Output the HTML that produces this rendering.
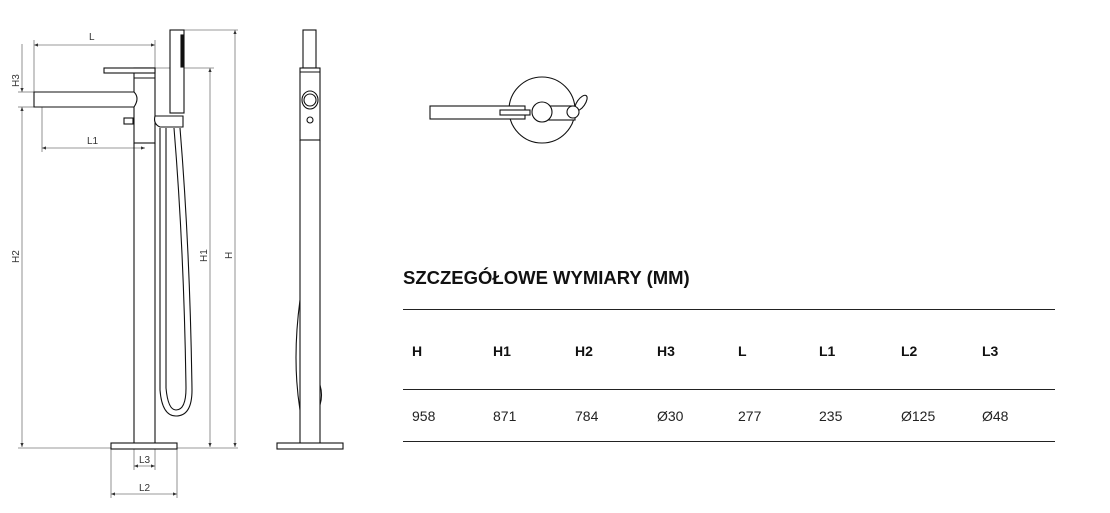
<!DOCTYPE html>
<html><head><meta charset="utf-8"><style>
html,body{margin:0;padding:0;background:#fff;width:1110px;height:513px;overflow:hidden}
svg{position:absolute;left:0;top:0}
text{font-family:"Liberation Sans",sans-serif}
</style></head><body>
<svg width="1110" height="513" viewBox="0 0 1110 513">
<defs>
<marker id="a" viewBox="0 0 10 10" refX="10" refY="5" markerWidth="5" markerHeight="5" orient="auto-start-reverse"><path d="M0,1 L10,5 L0,9z" fill="#333"/></marker>
</defs>
<g stroke="#777" stroke-width="0.8" fill="none">
<line x1="34" y1="45" x2="155" y2="45" marker-start="url(#a)" marker-end="url(#a)"/>
<line x1="34" y1="40" x2="34" y2="92"/>
<line x1="155" y1="40" x2="155" y2="68"/>
<line x1="22" y1="44" x2="22" y2="92" marker-end="url(#a)"/>
<line x1="18" y1="92" x2="34" y2="92"/>
<line x1="18" y1="107" x2="34" y2="107"/>
<line x1="22" y1="107" x2="22" y2="447" marker-start="url(#a)" marker-end="url(#a)"/>
<line x1="42" y1="105" x2="42" y2="152"/>
<line x1="42" y1="148" x2="145" y2="148" marker-start="url(#a)" marker-end="url(#a)"/>
<line x1="155" y1="68" x2="214" y2="68"/>
<line x1="184" y1="30" x2="238" y2="30"/>
<line x1="210" y1="68" x2="210" y2="447" marker-start="url(#a)" marker-end="url(#a)"/>
<line x1="235" y1="30" x2="235" y2="447" marker-start="url(#a)" marker-end="url(#a)"/>
<line x1="18" y1="448" x2="238" y2="448"/>
<line x1="134" y1="449" x2="134" y2="470"/>
<line x1="155" y1="449" x2="155" y2="470"/>
<line x1="134" y1="466" x2="155" y2="466" marker-start="url(#a)" marker-end="url(#a)"/>
<line x1="111" y1="449" x2="111" y2="498"/>
<line x1="177" y1="449" x2="177" y2="498"/>
<line x1="111" y1="494" x2="177" y2="494" marker-start="url(#a)" marker-end="url(#a)"/>
</g>
<g fill="#333" font-size="10">
<text x="89" y="40">L</text>
<text x="87" y="144">L1</text>
<text x="139" y="463">L3</text>
<text x="139" y="491">L2</text>
<text transform="translate(19,87) rotate(-90)">H3</text>
<text transform="translate(19,263) rotate(-90)">H2</text>
<text transform="translate(207,262) rotate(-90)">H1</text>
<text transform="translate(232,259) rotate(-90)">H</text>
</g>
<g stroke="#111" stroke-width="1.1" fill="#fff">
<rect x="134" y="68" width="21" height="75"/>
<line x1="134" y1="143" x2="134" y2="443"/>
<line x1="155" y1="143" x2="155" y2="443"/>
<rect x="104" y="68" width="51" height="5"/>
<line x1="134" y1="78" x2="155" y2="78"/>
<path d="M34,92 L134,92 Q140,98 134,107 L34,107 Z"/>
<rect x="124" y="118" width="9" height="6"/>
<rect x="170" y="30" width="14" height="83"/>
<rect x="181" y="35" width="2" height="32" fill="#111"/>
<path d="M155,116 Q153,124 160,127 L183,127 L183,116 Z"/>
<path d="M160,128 L160,390 Q162,416 176,416 Q192,416 192,390 Q190,250 180,128" fill="none"/>
<path d="M166,128 L166,388 Q168,410 176,410 Q186,410 186,388 Q184,250 174,128" fill="none"/>
<rect x="111" y="443" width="66" height="6"/>
<rect x="303" y="30" width="13" height="38"/>
<rect x="300" y="68" width="20" height="72"/>
<line x1="300" y1="140" x2="300" y2="443"/>
<line x1="320" y1="140" x2="320" y2="443"/>
<line x1="300" y1="72" x2="320" y2="72"/>
<ellipse cx="310" cy="100" rx="8" ry="9"/>
<circle cx="310" cy="100" r="6"/>
<circle cx="310" cy="120" r="3"/>
<path d="M300,300 Q292,360 300,410" fill="none"/>
<path d="M320,385 Q323,395 320,405" fill="none"/>
<rect x="277" y="443" width="66" height="6"/>
<circle cx="542" cy="110" r="33"/>
<rect x="430" y="106" width="95" height="13"/>
<rect x="500" y="110" width="30" height="5"/>
<ellipse cx="581" cy="103" rx="4" ry="9" transform="rotate(35 581 103)"/>
<rect x="545" y="106" width="30" height="14"/>
<circle cx="573" cy="112" r="6"/>
<circle cx="542" cy="112" r="10"/>
</g>
<text x="403" y="284" font-size="18.5" font-weight="bold" fill="#111">SZCZEGÓŁOWE WYMIARY (MM)</text>
<g stroke="#222" stroke-width="1">
<line x1="403" y1="309.5" x2="1055" y2="309.5"/>
<line x1="403" y1="389.5" x2="1055" y2="389.5"/>
<line x1="403" y1="441.5" x2="1055" y2="441.5"/>
</g>
<g font-size="14" font-weight="bold" fill="#111">
<text x="412" y="356">H</text><text x="493" y="356">H1</text><text x="575" y="356">H2</text><text x="657" y="356">H3</text>
<text x="738" y="356">L</text><text x="819" y="356">L1</text><text x="901" y="356">L2</text><text x="982" y="356">L3</text>
</g>
<g font-size="14" fill="#222">
<text x="412" y="421">958</text><text x="493" y="421">871</text><text x="575" y="421">784</text><text x="657" y="421">Ø30</text>
<text x="738" y="421">277</text><text x="819" y="421">235</text><text x="901" y="421">Ø125</text><text x="982" y="421">Ø48</text>
</g>
</svg>
</body></html>
